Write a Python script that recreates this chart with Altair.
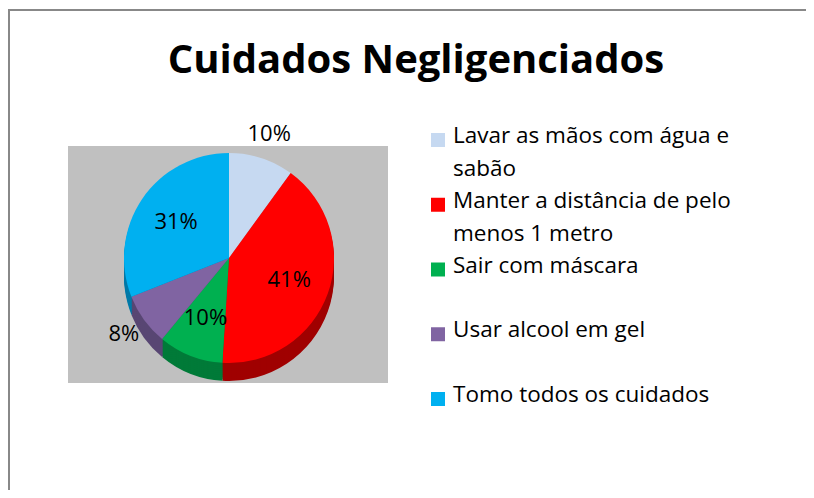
import altair as alt
import pandas as pd

categories = [
    "Lavar as mãos com água e sabão",
    "Manter a distância de pelo menos 1 metro",
    "Sair com máscara",
    "Usar alcool em gel",
    "Tomo todos os cuidados",
]
legend_lines = [
    "Lavar as mãos com água e\nsabão",
    "Manter a distância de pelo\nmenos 1 metro",
    "Sair com máscara",
    "Usar alcool em gel",
    "Tomo todos os cuidados",
]
values = [10, 41, 10, 8, 31]
top_colors = ["#c6d9f1", "#ff0000", "#00b050", "#8064a2", "#00b0f0"]
side_colors = ["#8a98a8", "#a00000", "#007a38", "#584673", "#0079a8"]
title_text = "Cuidados Negligenciados"

df = pd.DataFrame({
    "cat": categories,
    "legend": legend_lines,
    "value": values,
    "idx": list(range(len(categories))),
})

FONT = "Open Sans"
W, H = 798, 482
CX, CY = 220, 249
R = 105
DEPTH = 18

base = alt.Chart(df)

color_top = alt.Color("cat:N", scale=alt.Scale(domain=categories, range=top_colors), legend=None)
color_side = alt.Color("cat:N", scale=alt.Scale(domain=categories, range=side_colors), legend=None)
theta = alt.Theta("value:Q", stack=True)
order = alt.Order("idx:Q")

border = base.mark_rule(color="#888888", strokeWidth=2).encode(
    x=alt.value(0), x2=alt.value(W), y=alt.value(1), y2=alt.value(1)
)
border_left = base.mark_rule(color="#888888", strokeWidth=2).encode(
    x=alt.value(0), x2=alt.value(0), y=alt.value(0), y2=alt.value(H)
)
bg = base.mark_rect(color="#c0c0c0").encode(
    x=alt.value(59), x2=alt.value(379), y=alt.value(137), y2=alt.value(374)
)

layers = [bg]
for k in range(DEPTH, 0, -2):
    layers.append(
        base.mark_arc(radius=R).encode(
            theta=theta, order=order, color=color_side,
            x=alt.value(CX), y=alt.value(CY + k),
        )
    )
layers.append(
    base.mark_arc(radius=R).encode(
        theta=theta, order=order, color=color_top,
        x=alt.value(CX), y=alt.value(CY),
    )
)

outside = alt.FieldOneOfPredicate(field="cat", oneOf=[categories[0], categories[3]])

inner_labels = base.transform_calculate(label="datum.value + '%'").mark_text(
    radius=64, font=FONT, fontSize=22, color="black"
).encode(
    theta=theta, order=order, text="label:N", x=alt.value(CX), y=alt.value(CY),
    opacity=alt.condition(outside, alt.value(0), alt.value(1)),
)
outer_labels = base.transform_calculate(label="datum.value + '%'").mark_text(
    radius=130, font=FONT, fontSize=22, color="black"
).encode(
    theta=theta, order=order, text="label:N", x=alt.value(CX), y=alt.value(CY),
    opacity=alt.condition(outside, alt.value(1), alt.value(0)),
)

ypos = alt.Y("cat:N", scale=alt.Scale(type="point", domain=categories, range=[131, 390], padding=0), axis=None)
leg_sq = base.mark_square(size=196, opacity=1).encode(
    x=alt.value(429), y=ypos, color=color_top
)
leg_txt = base.mark_text(
    align="left", baseline="top", dy=-15, font=FONT, fontSize=22.5, lineBreak="\n",
    lineHeight=33, color="black"
).encode(x=alt.value(444), y=ypos, text="legend:N")

title = base.transform_filter("datum.idx == 0").mark_text(
    font=FONT, fontSize=40, fontWeight="bold", color="black", align="center", baseline="middle"
).encode(x=alt.value(407), y=alt.value(52), text=alt.value(title_text))

chart = alt.layer(
    border, border_left, *layers, inner_labels, outer_labels, leg_sq, leg_txt, title
).resolve_scale(color="independent").properties(
    width=W, height=H, padding=0,
    autosize=alt.AutoSizeParams(type="fit", contains="padding"),
).configure_view(stroke=None)

chart.save("out.html", embed_options={"renderer": "svg", "actions": False})
